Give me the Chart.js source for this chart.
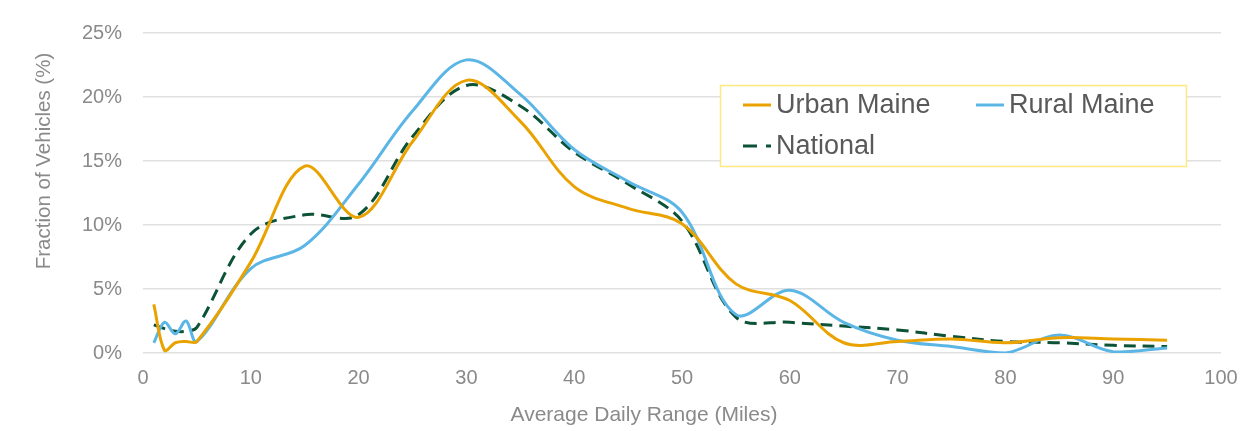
<!DOCTYPE html>
<html>
<head>
<meta charset="utf-8">
<script src="https://cdn.jsdelivr.net/npm/chart.js@4.4.1/dist/chart.umd.min.js"></script>
<style>
  html, body { margin: 0; padding: 0; background: #fff; }
  #wrap { width: 1243px; height: 431px; position: relative; }
</style>
</head>
<body>
<div id="wrap"><canvas id="myChart"></canvas></div>
<script>
// miles (x) and fraction of vehicles (%)
var miles = [1, 2, 3, 4, 5, 10, 15, 20, 25, 30, 35, 40, 45, 50, 55, 60, 65, 70, 75, 80, 85, 90, 95];
var urbanMaine = [3.8, 0.2, 0.8, 0.9, 0.9, 7.1, 14.6, 10.6, 16.5, 21.3, 18.1, 13.0, 11.3, 10.1, 5.4, 4.1, 0.8, 0.9, 1.1, 0.8, 1.2, 1.1, 1.0];
var ruralMaine = [0.8, 2.4, 1.5, 2.5, 0.9, 6.6, 8.4, 13.2, 18.9, 22.9, 20.2, 15.9, 13.4, 11.0, 3.0, 4.9, 2.4, 1.0, 0.5, 0.0, 1.4, 0.1, 0.4];
var national = [2.2, 1.9, 1.7, 1.7, 2.0, 9.3, 10.8, 10.8, 16.9, 20.9, 19.3, 15.7, 13.2, 10.3, 2.8, 2.4, 2.1, 1.8, 1.3, 0.9, 0.8, 0.6, 0.5];
var seriesNames = ['Urban Maine', 'Rural Maine', 'National'];
var yTicks = [0, 5, 10, 15, 20, 25];
var xTitle = 'Average Daily Range (Miles)';
var yTitle = 'Fraction of Vehicles (%)';

var orange = '#E9A200';
var blue = '#5BB6E6';
var green = '#0B5236';

function pts(vals) {
  return miles.map(function (m, i) { return { x: m, y: vals[i] }; });
}

var fam = "'Liberation Sans', Arial, sans-serif";
var tickFont = { family: fam, size: 20 };
var tickColor = '#8a8a8a';

// axis titles sit off-centre in the original, so they are drawn here
var axisTitles = {
  id: 'axisTitles',
  afterDraw: function (chart) {
    var c = chart.ctx;
    c.save();
    c.fillStyle = tickColor;
    c.textAlign = 'center';
    c.textBaseline = 'middle';
    c.font = '21px ' + fam;
    c.fillText(xTitle, 644, 415);
    c.translate(44, 161);
    c.rotate(-Math.PI / 2);
    c.font = '20.5px ' + fam;
    c.fillText(yTitle, 0, 0);
    c.restore();
  }
};

// legend box drawn inside the plot like the original
var boxLegend = {
  id: 'boxLegend',
  afterDatasetsDraw: function (chart) {
    var c = chart.ctx;
    c.save();
    c.fillStyle = '#ffffff';
    c.fillRect(720, 85, 466, 81);
    c.strokeStyle = '#FFE97F';
    c.lineWidth = 1.5;
    c.strokeRect(720.5, 85.5, 466, 81);

    c.font = '27px ' + fam;
    c.fillStyle = '#595959';
    c.textBaseline = 'middle';
    var items = [
      { x: 743, y: 105, color: orange, dash: [] },
      { x: 976, y: 105, color: blue, dash: [] },
      { x: 743, y: 146, color: green, dash: [14, 9] }
    ];
    items.forEach(function (it, i) {
      c.beginPath();
      c.setLineDash(it.dash);
      c.strokeStyle = it.color;
      c.lineWidth = 3;
      c.moveTo(it.x, it.y);
      c.lineTo(it.x + 28, it.y);
      c.stroke();
      c.setLineDash([]);
      c.fillText(seriesNames[i], it.x + 33, it.y + 1);
    });
    c.restore();
  }
};

const ctx = document.getElementById('myChart').getContext('2d');
const myChart = new Chart(ctx, {
  type: 'line',
  data: {
    datasets: [
      { label: seriesNames[0], data: pts(urbanMaine), borderColor: orange, borderWidth: 3, pointRadius: 0, tension: 0.35, fill: false },
      { label: seriesNames[1], data: pts(ruralMaine), borderColor: blue, borderWidth: 3, pointRadius: 0, tension: 0.35, fill: false },
      { label: seriesNames[2], data: pts(national), borderColor: green, borderWidth: 3, borderDash: [12, 7], pointRadius: 0, tension: 0.35, fill: false }
    ]
  },
  options: {
    responsive: true,
    maintainAspectRatio: false,
    animation: false,
    layout: { padding: { left: 0, right: 22, top: 32, bottom: 0 } },
    plugins: { legend: { display: false }, tooltip: { enabled: false } },
    scales: {
      x: {
        type: 'linear',
        min: 0,
        max: 100,
        ticks: { stepSize: 10, color: tickColor, font: tickFont, padding: 13, maxRotation: 0 },
        grid: { display: false, drawTicks: false },
        border: { display: false },
        afterFit: function (s) { s.height = 78; s.paddingLeft = 0; s.paddingRight = 0; }
      },
      y: {
        min: 0,
        max: 25,
        afterBuildTicks: function (s) { s.ticks = yTicks.map(function (v) { return { value: v }; }); },
        ticks: { color: tickColor, font: tickFont, padding: 21, callback: function (v) { return v + '%'; } },
        grid: { color: '#E0E0E0', lineWidth: 1.5, drawTicks: false },
        border: { display: false },
        afterFit: function (s) { s.width = 143; }
      }
    }
  },
  plugins: [boxLegend, axisTitles]
});
</script>
</body>
</html>
